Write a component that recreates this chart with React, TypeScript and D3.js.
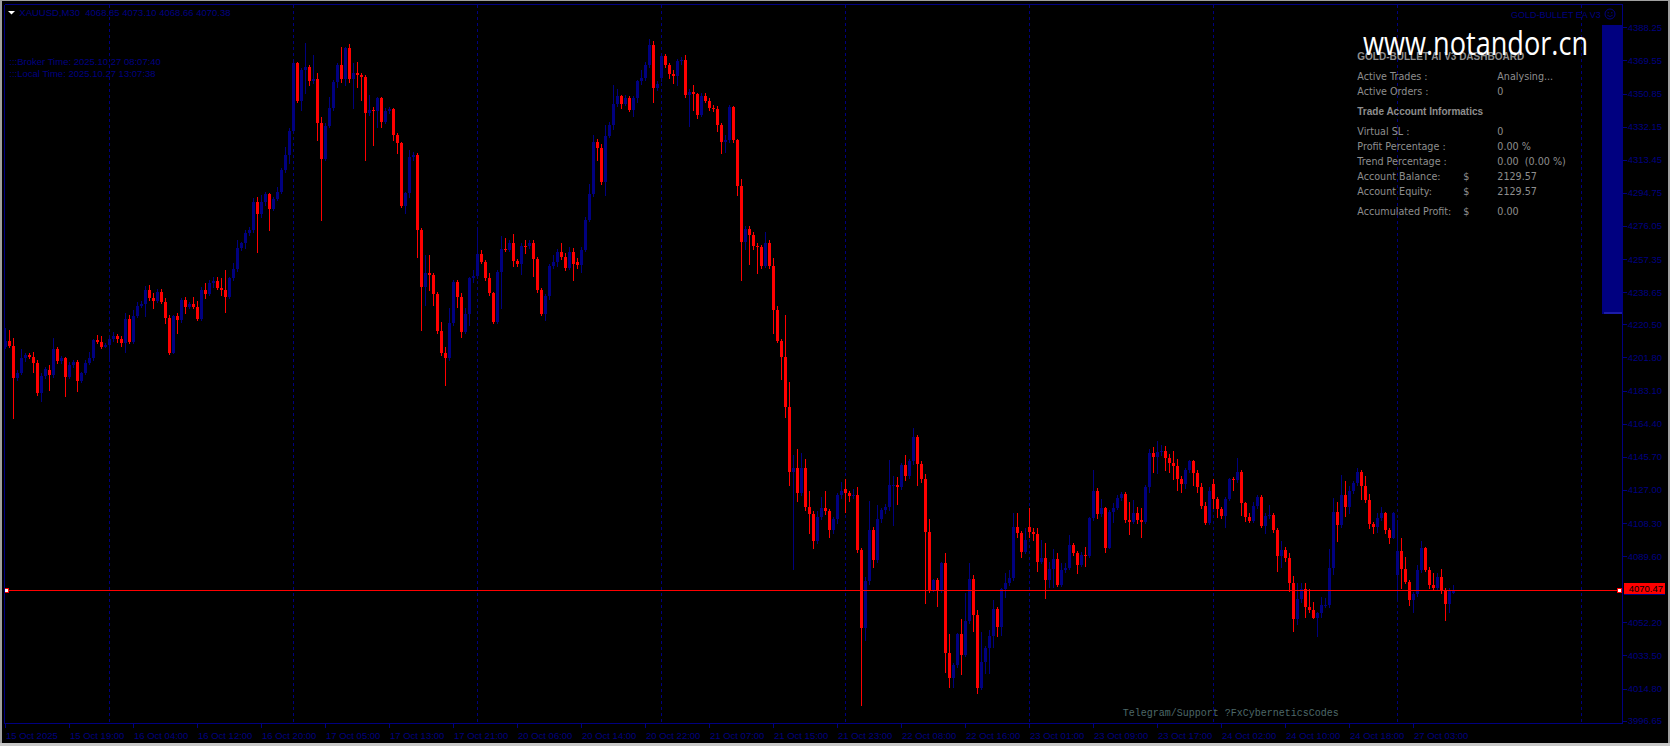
import React from 'react';
import * as d3 from 'd3';

// [open, high, low, close] per M30 bar, XAUUSD 15 Oct 11:00 -> 27 Oct 08:00
const candles: [number, number, number, number][] = [
  [4207.9,4218.2,4206.9,4211.3],[4211.3,4217.3,4207.5,4208.2],[4208.2,4212.6,4167.4,4190.4],[4190.4,4194.7,4189.1,4192.8],
  [4192.8,4206.4,4192.4,4201.3],[4201.3,4204.1,4200.0,4203.2],[4203.2,4204.5,4201.3,4202.2],[4202.2,4204.7,4193.7,4198.8],
  [4198.8,4200.3,4180.6,4181.5],[4181.5,4192.8,4177.2,4191.3],[4191.3,4196.6,4190.0,4195.1],[4194.7,4197.5,4183.4,4191.9],
  [4191.9,4212.6,4190.9,4206.4],[4206.4,4207.9,4198.5,4199.8],[4199.8,4202.6,4198.5,4201.7],[4201.7,4202.2,4180.2,4190.9],
  [4190.9,4199.4,4190.0,4197.5],[4197.5,4200.3,4196.6,4199.4],[4199.4,4200.3,4182.8,4188.7],[4188.7,4193.7,4188.1,4192.8],
  [4192.8,4200.3,4192.4,4198.8],[4198.8,4205.0,4198.1,4201.3],[4201.3,4212.0,4200.3,4211.6],[4211.6,4214.5,4209.7,4210.7],
  [4210.7,4213.9,4206.9,4207.9],[4207.9,4209.7,4207.5,4208.8],[4208.8,4214.5,4201.3,4212.0],[4212.0,4216.3,4211.3,4213.9],
  [4213.9,4215.0,4210.7,4212.0],[4212.0,4213.9,4208.2,4209.7],[4209.7,4226.7,4205.0,4223.3],[4223.3,4225.7,4209.7,4210.7],
  [4210.7,4228.6,4209.7,4225.2],[4225.2,4233.3,4224.4,4230.8],[4230.8,4233.9,4230.1,4231.9],[4231.9,4242.1,4225.2,4239.9],
  [4239.9,4242.7,4234.2,4235.5],[4235.5,4238.0,4229.5,4233.8],[4233.8,4240.3,4233.3,4238.9],[4238.9,4240.3,4232.3,4233.3],
  [4233.3,4235.2,4221.0,4223.9],[4223.9,4225.7,4203.7,4204.5],[4204.5,4225.7,4204.1,4225.2],[4225.2,4226.7,4215.8,4222.9],
  [4222.9,4235.2,4222.0,4234.2],[4234.2,4236.1,4226.7,4230.4],[4230.4,4233.3,4229.5,4231.9],[4231.9,4236.1,4229.5,4230.4],
  [4230.4,4233.9,4222.9,4223.3],[4223.3,4241.7,4222.9,4239.9],[4239.9,4243.6,4235.2,4237.6],[4237.6,4245.5,4237.0,4243.6],
  [4243.6,4247.0,4241.7,4245.1],[4245.1,4247.4,4240.2,4240.8],[4240.8,4246.4,4237.0,4239.9],[4239.9,4251.2,4227.6,4236.1],
  [4236.1,4247.4,4235.2,4246.4],[4246.4,4254.9,4245.5,4251.5],[4251.5,4268.1,4250.8,4263.4],[4263.4,4267.2,4262.5,4266.2],
  [4266.2,4273.8,4263.4,4271.9],[4271.9,4275.6,4270.9,4273.8],[4273.8,4291.6,4272.8,4289.8],[4289.8,4292.6,4261.5,4282.6],
  [4282.6,4293.5,4281.3,4289.8],[4289.8,4295.4,4287.9,4293.9],[4293.9,4294.8,4273.8,4285.6],[4285.6,4292.6,4285.1,4291.1],
  [4291.1,4298.2,4290.7,4295.4],[4295.4,4308.6,4294.5,4307.6],[4307.6,4320.8,4306.7,4316.1],[4316.1,4331.2,4311.4,4329.7],
  [4329.7,4368.8,4329.3,4368.3],[4368.3,4368.8,4346.2,4346.8],[4346.8,4365.1,4341.5,4364.1],[4364.1,4379.2,4350.9,4366.0],
  [4366.0,4366.9,4355.6,4358.1],[4358.1,4372.6,4356.6,4358.8],[4358.8,4362.2,4324.6,4334.0],[4334.0,4337.8,4279.4,4314.0],
  [4314.0,4334.0,4313.3,4332.5],[4332.5,4349.1,4331.7,4342.5],[4342.5,4358.5,4341.5,4357.3],[4357.3,4367.9,4354.7,4366.9],
  [4366.9,4377.3,4357.5,4358.8],[4358.8,4377.3,4355.6,4376.3],[4376.3,4378.8,4357.5,4358.8],[4358.8,4367.9,4342.5,4362.2],
  [4362.2,4368.8,4354.7,4361.3],[4361.3,4362.6,4347.2,4360.3],[4360.3,4361.3,4313.3,4340.0],[4340.0,4350.0,4338.7,4341.5],
  [4341.5,4343.4,4321.8,4341.1],[4341.1,4349.1,4332.1,4348.1],[4348.1,4349.1,4332.1,4334.9],[4334.9,4342.5,4334.4,4341.1],
  [4341.1,4343.0,4339.6,4341.9],[4341.9,4342.5,4324.6,4327.4],[4327.4,4328.3,4317.0,4322.7],[4322.7,4323.6,4287.0,4287.3],
  [4287.3,4295.4,4283.5,4294.5],[4294.5,4318.9,4292.6,4315.2],[4315.2,4318.0,4313.3,4316.1],[4316.1,4317.4,4258.7,4273.8],
  [4273.8,4274.7,4217.3,4241.7],[4241.7,4259.6,4231.4,4249.3],[4249.3,4259.6,4239.9,4248.3],[4248.3,4249.7,4231.4,4237.6],
  [4237.6,4238.9,4215.4,4216.7],[4216.7,4222.0,4203.2,4204.5],[4204.5,4207.9,4186.2,4201.7],[4201.7,4229.5,4200.3,4221.0],
  [4221.0,4245.5,4220.1,4244.6],[4244.6,4245.5,4230.4,4235.7],[4235.7,4238.0,4213.1,4216.3],[4216.3,4229.5,4215.4,4226.3],
  [4226.3,4247.4,4220.1,4246.4],[4246.4,4251.2,4244.6,4247.8],[4247.8,4275.6,4246.4,4260.2],[4260.2,4262.5,4254.9,4255.9],
  [4255.9,4256.8,4245.5,4246.4],[4246.4,4249.3,4237.0,4238.0],[4238.0,4238.9,4221.0,4222.0],[4222.0,4251.2,4221.0,4250.2],
  [4250.0,4270.2,4229.8,4263.1],[4263.1,4269.1,4261.9,4262.7],[4262.7,4268.4,4261.9,4266.7],[4266.7,4271.4,4253.6,4256.0],
  [4256.0,4257.2,4253.6,4254.8],[4254.8,4266.7,4248.9,4265.0],[4265.0,4267.9,4260.7,4264.6],[4264.6,4268.4,4263.6,4266.2],
  [4266.2,4267.9,4247.7,4257.2],[4257.2,4258.4,4238.9,4239.8],[4239.8,4241.3,4225.6,4226.3],[4226.3,4237.5,4222.7,4236.5],
  [4236.5,4254.8,4234.6,4253.6],[4253.6,4259.5,4252.4,4255.5],[4255.5,4263.1,4253.6,4261.2],[4261.2,4266.7,4257.2,4258.8],
  [4258.8,4260.7,4251.2,4252.4],[4252.4,4264.3,4251.7,4261.2],[4261.2,4263.6,4245.8,4254.8],[4255.6,4257.9,4252.4,4254.1],
  [4254.1,4264.3,4250.0,4262.7],[4262.7,4280.9,4261.9,4279.3],[4279.3,4299.9,4278.6,4294.0],[4294.0,4327.7,4292.8,4323.7],
  [4323.7,4325.4,4313.5,4320.2],[4320.2,4322.5,4299.9,4300.7],[4300.7,4333.2,4293.6,4326.8],[4326.8,4334.9,4326.1,4333.2],
  [4333.2,4355.8,4330.9,4345.1],[4345.1,4353.4,4343.9,4349.2],[4349.2,4349.9,4342.7,4345.1],[4345.1,4349.9,4344.4,4348.2],
  [4348.2,4349.2,4340.8,4341.6],[4341.6,4349.2,4338.0,4348.2],[4348.2,4358.7,4346.3,4357.7],[4357.7,4364.1,4356.3,4359.4],
  [4359.4,4368.9,4358.7,4367.2],[4367.2,4381.5,4365.8,4378.4],[4378.4,4380.3,4346.3,4353.9],[4353.9,4358.2,4353.0,4356.3],
  [4359.4,4373.7,4358.2,4372.0],[4372.0,4372.9,4365.8,4367.2],[4367.2,4368.2,4359.4,4361.8],[4361.8,4364.1,4357.0,4360.6],
  [4360.6,4370.1,4355.8,4369.1],[4369.1,4371.3,4367.7,4369.6],[4369.6,4372.5,4348.7,4349.9],[4349.9,4353.4,4332.5,4351.5],
  [4351.5,4355.4,4341.6,4350.6],[4350.6,4351.1,4336.8,4338.7],[4338.7,4351.1,4338.0,4349.4],[4349.4,4351.1,4345.8,4346.8],
  [4346.8,4348.2,4341.6,4342.7],[4342.7,4344.4,4341.1,4342.0],[4342.0,4343.9,4329.7,4333.2],[4333.2,4334.4,4317.3,4323.3],
  [4323.3,4327.3,4317.8,4324.4],[4324.4,4344.4,4323.7,4343.2],[4343.2,4343.9,4323.7,4324.4],[4324.4,4325.4,4293.3,4298.8],
  [4298.8,4302.3,4245.3,4267.2],[4267.2,4276.2,4263.1,4274.3],[4274.3,4276.2,4254.8,4270.7],[4270.7,4272.6,4263.1,4264.8],
  [4264.8,4266.7,4249.3,4264.3],[4264.3,4265.5,4252.4,4253.6],[4253.6,4272.6,4253.1,4266.7],[4266.7,4267.9,4252.4,4253.6],
  [4253.6,4257.9,4215.6,4228.6],[4228.6,4231.0,4210.8,4211.3],[4211.3,4212.0,4189.9,4201.8],[4201.8,4225.6,4168.0,4174.0],
  [4174.0,4188.2,4130.0,4137.1],[4137.1,4146.7,4082.5,4139.5],[4139.5,4150.2,4120.5,4125.3],[4125.3,4147.8,4124.1,4139.5],
  [4139.5,4144.3,4115.7,4117.4],[4117.4,4126.4,4102.7,4113.4],[4113.4,4114.9,4094.4,4098.0],[4098.0,4114.9,4097.2,4111.5],
  [4111.5,4122.9,4110.5,4116.9],[4116.9,4126.4,4113.4,4115.3],[4115.3,4116.2,4100.3,4104.3],[4104.3,4111.5,4102.7,4110.3],
  [4110.3,4125.3,4108.1,4124.1],[4124.1,4131.2,4122.4,4126.5],[4127.6,4133.1,4114.6,4125.3],[4125.3,4126.5,4120.9,4123.4],
  [4123.4,4127.6,4122.4,4124.1],[4124.1,4128.4,4092.0,4093.2],[4093.2,4094.4,4005.5,4049.2],[4049.2,4077.7,4042.1,4075.3],
  [4075.3,4120.5,4074.1,4104.6],[4104.6,4106.2,4083.6,4087.2],[4087.2,4118.6,4086.0,4110.5],[4110.5,4116.9,4108.6,4115.7],
  [4115.7,4119.3,4113.8,4117.4],[4117.4,4143.8,4115.7,4129.5],[4129.5,4134.8,4107.4,4130.0],[4130.0,4134.3,4118.8,4128.4],
  [4128.4,4142.4,4127.6,4141.2],[4141.2,4146.7,4132.4,4134.8],[4134.8,4144.7,4133.6,4143.1],[4143.1,4161.9,4141.9,4156.6],
  [4156.6,4158.1,4130.0,4141.9],[4141.9,4143.1,4131.2,4133.1],[4133.1,4135.9,4063.0,4103.4],[4103.4,4110.5,4069.4,4070.6],
  [4070.6,4076.5,4070.1,4076.1],[4076.1,4077.0,4061.4,4070.1],[4070.1,4086.5,4069.5,4085.5],[4085.5,4091.2,4024.3,4034.7],
  [4034.7,4045.4,4015.5,4021.0],[4021.0,4029.0,4015.9,4028.1],[4028.1,4046.4,4027.2,4045.4],[4045.4,4053.9,4023.0,4033.8],
  [4033.8,4068.9,4033.2,4053.0],[4053.0,4085.5,4052.0,4076.5],[4076.5,4078.9,4047.5,4056.3],[4056.3,4059.2,4012.1,4015.3],
  [4015.3,4046.9,4014.4,4030.0],[4030.0,4038.9,4023.8,4037.9],[4037.9,4047.9,4023.4,4044.7],[4044.7,4064.8,4038.1,4059.5],
  [4059.5,4060.7,4044.7,4049.8],[4049.8,4071.4,4045.1,4070.8],[4070.8,4079.9,4066.7,4074.6],[4074.6,4081.8,4073.3,4077.4],
  [4077.4,4113.8,4076.1,4105.9],[4105.9,4113.8,4100.6,4102.8],[4102.8,4104.0,4088.9,4092.1],[4092.1,4105.3,4091.2,4098.7],
  [4105.9,4116.6,4100.6,4103.4],[4103.4,4105.3,4098.7,4102.1],[4102.1,4105.3,4081.4,4086.5],[4086.5,4098.7,4085.5,4088.3],
  [4088.3,4097.2,4066.1,4076.1],[4076.1,4086.5,4072.3,4082.1],[4082.1,4093.4,4072.3,4087.8],[4087.8,4091.5,4072.7,4073.3],
  [4073.3,4085.9,4072.7,4081.8],[4081.8,4085.9,4080.8,4083.1],[4083.1,4101.4,4082.1,4095.7],[4095.7,4096.8,4090.2,4091.5],
  [4091.5,4092.7,4080.3,4084.6],[4084.6,4092.1,4084.0,4090.2],[4090.2,4094.9,4084.2,4089.7],[4089.7,4111.5,4088.9,4111.3],
  [4111.3,4138.2,4110.0,4126.4],[4126.4,4127.9,4110.9,4113.4],[4113.4,4121.7,4112.3,4116.6],[4116.6,4117.5,4092.1,4094.4],
  [4094.4,4115.6,4094.0,4114.3],[4114.3,4119.4,4109.1,4117.0],[4117.0,4124.1,4116.0,4122.6],[4122.6,4126.0,4121.3,4124.7],
  [4124.7,4126.0,4109.1,4110.0],[4110.0,4120.4,4102.1,4109.1],[4109.1,4121.3,4108.5,4113.8],[4113.8,4117.5,4108.5,4110.0],
  [4110.0,4117.0,4100.6,4109.1],[4109.1,4129.8,4108.5,4128.4],[4128.4,4149.9,4126.0,4147.6],[4147.6,4151.0,4137.3,4145.4],
  [4145.4,4154.8,4136.4,4148.6],[4148.6,4152.4,4146.7,4149.2],[4149.2,4152.0,4138.2,4145.2],[4145.2,4147.3,4137.3,4142.0],
  [4142.0,4149.0,4133.0,4140.7],[4140.7,4144.4,4126.9,4133.2],[4133.2,4134.8,4126.0,4130.2],[4130.2,4139.2,4127.9,4138.2],
  [4138.2,4143.9,4137.3,4143.3],[4143.3,4143.9,4129.8,4136.4],[4136.4,4138.2,4126.0,4128.8],[4128.8,4130.7,4116.6,4117.9],
  [4117.9,4120.4,4107.7,4108.1],[4108.1,4128.8,4107.7,4126.6],[4130.3,4133.0,4117.0,4121.9],[4121.9,4123.2,4111.5,4116.2],
  [4116.2,4117.5,4110.9,4112.4],[4112.4,4123.2,4106.2,4121.9],[4121.9,4133.5,4121.3,4133.0],[4133.0,4134.5,4126.9,4132.6],
  [4132.6,4144.8,4131.7,4137.3],[4137.3,4138.2,4112.8,4119.4],[4119.4,4120.4,4109.6,4111.9],[4111.9,4113.8,4109.1,4109.6],
  [4109.6,4120.4,4109.1,4117.9],[4117.9,4124.1,4116.6,4122.8],[4122.8,4124.1,4105.9,4106.6],[4106.6,4113.8,4102.8,4112.3],
  [4112.3,4118.5,4110.9,4112.8],[4112.8,4113.8,4103.4,4104.4],[4104.4,4105.7,4081.4,4089.9],[4089.9,4098.1,4083.6,4093.1],
  [4093.1,4094.9,4087.0,4088.7],[4088.7,4091.5,4069.9,4074.6],[4074.6,4078.4,4047.5,4053.9],[4053.9,4074.2,4051.3,4065.4],
  [4065.4,4074.2,4063.9,4071.0],[4071.0,4074.6,4055.0,4061.1],[4061.1,4070.8,4058.2,4059.2],[4059.2,4063.9,4054.5,4054.8],
  [4054.8,4058.2,4044.5,4057.3],[4057.3,4066.3,4055.4,4062.0],[4062.0,4065.8,4060.7,4062.2],[4062.2,4093.4,4061.1,4082.7],
  [4082.7,4122.2,4079.3,4114.7],[4114.7,4120.4,4098.3,4107.2],[4107.2,4135.4,4106.2,4124.1],[4124.1,4132.0,4112.3,4117.5],
  [4117.5,4129.0,4113.8,4126.6],[4126.6,4132.0,4125.4,4130.7],[4130.7,4139.2,4129.8,4136.9],[4136.9,4138.2,4121.7,4129.4],
  [4129.4,4134.8,4120.4,4121.3],[4121.3,4124.5,4105.3,4107.7],[4107.7,4109.1,4102.5,4105.9],[4105.9,4114.1,4103.4,4110.9],
  [4110.9,4117.2,4110.0,4113.8],[4113.8,4114.3,4102.8,4104.4],[4104.4,4105.3,4096.8,4100.0],[4100.0,4114.7,4099.6,4114.1],
  [4078.9,4110.0,4064.8,4092.5],[4092.5,4100.0,4071.4,4082.1],[4082.1,4089.3,4074.2,4075.2],[4075.2,4076.1,4062.0,4064.8],
  [4064.8,4069.5,4058.2,4068.2],[4068.2,4084.6,4067.1,4081.8],[4081.8,4098.1,4080.8,4094.4],[4094.4,4094.9,4081.4,4081.8],
  [4081.8,4083.6,4071.4,4073.3],[4073.3,4079.9,4070.8,4071.4],[4071.4,4079.9,4070.8,4077.6],[4077.6,4082.3,4068.6,4070.1],
  [4070.1,4071.4,4053.5,4062.6],[4062.6,4071.4,4058.2,4069.9],[4068.85,4073.10,4068.66,4070.38],
];

const priceTicks = [4388.25, 4369.55, 4350.85, 4332.15, 4313.45, 4294.75, 4276.05, 4257.35, 4238.65, 4220.50,
  4201.80, 4183.10, 4164.40, 4145.70, 4127.00, 4108.30, 4089.60, 4052.20, 4033.50, 4014.80, 3996.65];
const timeTickBars = [0, 16, 32, 48, 64, 80, 96, 112, 128, 144, 160, 176, 192, 208, 224, 240, 256, 272, 288, 304, 320, 336, 352];
const timeTickLabels = ['15 Oct 2025', '15 Oct 19:00', '16 Oct 04:00', '16 Oct 12:00', '16 Oct 20:00', '17 Oct 05:00',
  '17 Oct 13:00', '17 Oct 21:00', '20 Oct 06:00', '20 Oct 14:00', '20 Oct 22:00', '21 Oct 07:00', '21 Oct 15:00',
  '21 Oct 23:00', '22 Oct 08:00', '22 Oct 16:00', '23 Oct 01:00', '23 Oct 09:00', '23 Oct 17:00', '24 Oct 02:00',
  '24 Oct 10:00', '24 Oct 18:00', '27 Oct 03:00'];
const gridBars = [26, 72, 118, 164, 210, 256, 302, 348, 394];
const currentPrice = 4070.47;
const headerText = 'XAUUSD,M30  4068.85 4073.10 4068.66 4070.38';
const brokerTime = ':::Broker Time: 2025.10.27 08:07:40';
const localTime = ':::Local Time: 2025.10.27 13:07:38';
const eaTitle = 'GOLD-BULLET EA V3';
const dashTitle = 'GOLD-BULLET AI V3 DASHBOARD';
const dashSection = 'Trade Account Informatics';
const dashTop = [['Active Trades :', 'Analysing...'], ['Active Orders :', '0']];
const dashBottom = [['Virtual SL :', '', '0'], ['Profit Percentage :', '', '0.00 %'], ['Trend Percentage :', '', '0.00  (0.00 %)'],
  ['Account Balance:', '$', '2129.57'], ['Account Equity:', '$', '2129.57']];
const dashAccum = ['Accumulated Profit:', '$', '0.00'];
const watermark = 'www.notandor.cn';
const telegram = 'Telegram/Support ?FxCyberneticsCodes';

const NAVY = '#000080';
const RED = '#ff0000';
const GREY = '#8e8e8e';
const AXF = "'Liberation Sans', Arial, sans-serif";
const DF = "'DejaVu Sans', Verdana, sans-serif";

export default function App() {
  const W = 1670, H = 746;
  const L = 4.5, T = 4.5, R = 1622.5, B = 723.5;
  const x = d3.scaleLinear().domain([0, 362]).range([5.4, 1453.4]);
  const y = d3.scaleLinear().domain([3995.35, 4400.85]).range([723, 5]);
  const cpY = Math.round(y(currentPrice)) + 0.5;

  return (
    <div style={{ position: 'fixed', left: 0, top: 0, width: W, height: H, background: '#000' }}>
      <svg width={W} height={H} style={{ display: 'block' }}>
        <rect x={0} y={0} width={W} height={H} fill="#000" />
        {/* window border */}
        <rect x={0} y={0} width={2} height={H} fill="#a0a0a0" />
        <rect x={0} y={0} width={W} height={1} fill="#a0a0a0" />
        <rect x={1668} y={0} width={2} height={H} fill="#a0a0a0" />
        <rect x={0} y={743} width={W} height={3} fill="#c8c8c8" />

        {/* grid */}
        <g shapeRendering="crispEdges">
          {gridBars.map((b) => {
            const gx = Math.round(x(b)) + 0.5;
            return <line key={b} x1={gx} x2={gx} y1={T} y2={B} stroke={NAVY} strokeWidth={1} strokeDasharray="3,3" />;
          })}
        </g>

        {/* header */}
        <path d="M8,11 L15,11 L11.5,14.5 Z" fill="#fff" />
        <text x={19.3} y={16} fontFamily={AXF} fontSize={9.5} fill={NAVY} style={{ whiteSpace: 'pre' }}>{headerText}</text>
        <text x={9.3} y={65} fontFamily={AXF} fontSize={9.5} fill={NAVY}>{brokerTime}</text>
        <text x={9.3} y={76.7} fontFamily={AXF} fontSize={9.5} fill={NAVY}>{localTime}</text>

        {/* candles */}
        <g shapeRendering="crispEdges">
          {candles.map(([o, h, l, c], i) => {
            const cx = Math.round(x(i));
            const yo = Math.round(y(o)), yc = Math.round(y(c));
            const yh = Math.round(y(h)), yl = Math.round(y(l));
            const col = c >= o ? NAVY : RED;
            const top = Math.min(yo, yc);
            const bh = Math.max(1, Math.abs(yo - yc));
            return (
              <g key={i}>
                <rect x={cx} y={yh} width={1} height={Math.max(1, yl - yh + 1)} fill={col} />
                <rect x={cx - 1} y={top} width={3} height={bh} fill={col} />
              </g>
            );
          })}
        </g>

        {/* current price line */}
        <line x1={6} x2={1619} y1={cpY} y2={cpY} stroke={RED} strokeWidth={1} shapeRendering="crispEdges" />
        <rect x={4.5} y={cpY - 2.5} width={4} height={4} fill="#fff" stroke={RED} strokeWidth={1} shapeRendering="crispEdges" />
        <rect x={1617.5} y={cpY - 2.5} width={4} height={4} fill="#fff" stroke={RED} strokeWidth={1} shapeRendering="crispEdges" />

        {/* EA panel bar */}
        <rect x={1602} y={25} width={20.5} height={289} fill={NAVY} />
        <rect x={1604} y={312} width={18.5} height={2} fill="#1c1ca8" />
        <text x={1511} y={17.5} fontFamily={AXF} fontSize={9} fill={NAVY}>{eaTitle}</text>
        <circle cx={1610} cy={14} r={5} fill="none" stroke={NAVY} strokeWidth={1} />
        <circle cx={1608.2} cy={12.8} r={0.7} fill={NAVY} />
        <circle cx={1611.8} cy={12.8} r={0.7} fill={NAVY} />
        <path d="M1607.3,15.2 Q1610,18 1612.7,15.2" fill="none" stroke={NAVY} strokeWidth={0.9} />

        {/* dashboard */}
        <text x={1357.3} y={60.3} fontFamily={AXF} fontWeight="bold" fontSize={10} fill={GREY}>{dashTitle}</text>
        {dashTop.map(([a, b], k) => (
          <g key={'t' + k}>
            <text x={1357.3} y={80.3 + k * 15} fontFamily={DF} fontSize={9.6} fill={GREY}>{a}</text>
            <text x={1497.3} y={80.3 + k * 15} fontFamily={DF} fontSize={9.6} fill={GREY}>{b}</text>
          </g>
        ))}
        <text x={1357.3} y={115.3} fontFamily={AXF} fontWeight="bold" fontSize={10} fill={GREY}>{dashSection}</text>
        {dashBottom.map(([a, s, b], k) => (
          <g key={'b' + k}>
            <text x={1357.3} y={135.3 + k * 15} fontFamily={DF} fontSize={9.6} fill={GREY}>{a}</text>
            <text x={1463.3} y={135.3 + k * 15} fontFamily={DF} fontSize={9.6} fill={GREY}>{s}</text>
            <text x={1497.3} y={135.3 + k * 15} fontFamily={DF} fontSize={9.6} fill={GREY} style={{ whiteSpace: 'pre' }}>{b}</text>
          </g>
        ))}
        <text x={1357.3} y={215.3} fontFamily={DF} fontSize={9.6} fill={GREY}>{dashAccum[0]}</text>
        <text x={1463.3} y={215.3} fontFamily={DF} fontSize={9.6} fill={GREY}>{dashAccum[1]}</text>
        <text x={1497.3} y={215.3} fontFamily={DF} fontSize={9.6} fill={GREY}>{dashAccum[2]}</text>

        {/* watermark */}
        <text x={1363} y={55} fontFamily="'Open Sans', 'Noto Sans', sans-serif" fontSize={32} fill="#fff"
          textLength={225} lengthAdjust="spacingAndGlyphs">{watermark}</text>

        {/* telegram */}
        <text x={1122.7} y={716} fontFamily="'Liberation Mono', 'DejaVu Sans Mono', monospace" fontSize={10} fill="#4d6868">{telegram}</text>

        {/* frame & axes */}
        <g shapeRendering="crispEdges">
          <line x1={L} x2={R} y1={T} y2={T} stroke={NAVY} />
          <line x1={L} x2={L} y1={T} y2={B} stroke={NAVY} />
          <line x1={R} x2={R} y1={T} y2={B} stroke={NAVY} />
          <line x1={L} x2={R} y1={B} y2={B} stroke={NAVY} />
          {priceTicks.map((v) => {
            const ty = Math.round(y(v)) + 0.5;
            return <line key={v} x1={R} x2={R + 4} y1={ty} y2={ty} stroke={NAVY} />;
          })}
          {timeTickBars.map((b) => {
            const tx = Math.round(x(b)) + 0.5;
            return <line key={b} x1={tx} x2={tx} y1={B} y2={B + 4} stroke={NAVY} />;
          })}
        </g>
        {priceTicks.map((v) => (
          <text key={v} x={1627.7} y={y(v) + 3.5} fontFamily={AXF} fontSize={9.5} fill={NAVY}>{v.toFixed(2)}</text>
        ))}
        {timeTickBars.map((b, k) => (
          <text key={b} x={x(b) + 0.6} y={739} fontFamily={AXF} fontSize={9.5} fill={NAVY}>{timeTickLabels[k]}</text>
        ))}

        {/* current price label */}
        <rect x={1624} y={583} width={41} height={11} fill={RED} shapeRendering="crispEdges" />
        <line x1={1624} x2={1665} y1={594.5} y2={594.5} stroke={NAVY} shapeRendering="crispEdges" />
        <text x={1628.7} y={592.3} fontFamily={AXF} fontSize={9.5} fill="#000">{currentPrice.toFixed(2)}</text>
      </svg>
    </div>
  );
}
